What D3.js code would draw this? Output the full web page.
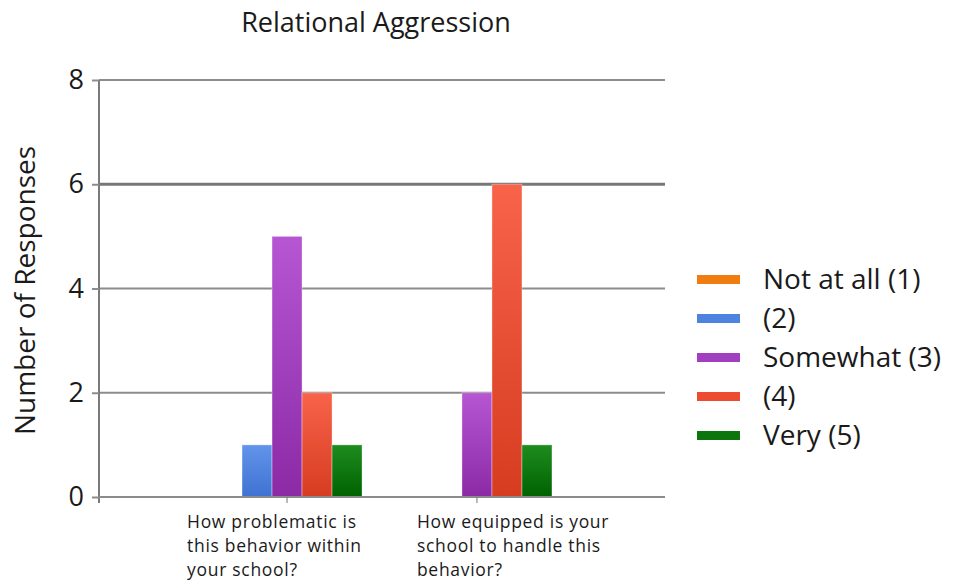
<!DOCTYPE html>
<html>
<head>
<meta charset="utf-8">
<script src="https://cdn.jsdelivr.net/npm/d3@7"></script>
<style>
  body { margin: 0; background: #fff; }
  svg { display: block; }
  text { font-family: "Open Sans", "DejaVu Sans", sans-serif; fill: #1a1a1a; }
</style>
</head>
<body>
<svg width="953" height="584"></svg>
<script>
// data
var categories = ["How problematic is this behavior within your school?",
                  "How equipped is your school to handle this behavior?"];
var categoryLines = [["How problematic is", "this behavior within", "your school?"],
                     ["How equipped is your", "school to handle this", "behavior?"]];
var seriesNames = ["Not at all (1)", "(2)", "Somewhat (3)", "(4)", "Very (5)"];
var notAtAll = [0, 0];
var two = [1, 0];
var somewhat = [5, 2];
var four = [2, 6];
var very = [1, 1];
var seriesValues = [notAtAll, two, somewhat, four, very];
var yTicks = [0, 2, 4, 6, 8];

var colors = [
  {top: "#f58a2a", bottom: "#e06a00", swatch: "#ef7d10"},
  {top: "#6294ea", bottom: "#3f72d2", swatch: "#4f83e0"},
  {top: "#b656d2", bottom: "#8c2aa6", swatch: "#a23fc0"},
  {top: "#f8634a", bottom: "#d63c20", swatch: "#ec4c30"},
  {top: "#1e8c1e", bottom: "#006200", swatch: "#0c760c"}
];

var margin = {top: 80, left: 99, right: 288, bottom: 87},
    width = 953 - margin.left - margin.right,
    height = 584 - margin.top - margin.bottom;

var svg = d3.select("svg");
var defs = svg.append("defs");
colors.forEach(function(c, i) {
  var g = defs.append("linearGradient")
      .attr("id", "grad" + i)
      .attr("x1", 0).attr("y1", 0).attr("x2", 0).attr("y2", 1);
  g.append("stop").attr("offset", "0%").attr("stop-color", c.top);
  g.append("stop").attr("offset", "100%").attr("stop-color", c.bottom);
});

var x = d3.scalePoint()
    .domain(categories)
    .range([0, width])
    .padding(0.99);

var xs = d3.scaleBand()
    .domain(seriesNames)
    .range([-75, 75])
    .padding(0);

var y = d3.scaleLinear()
    .domain([0, 8])
    .range([height, 0]);

var g = svg.append("g")
    .attr("transform", "translate(" + margin.left + "," + margin.top + ")");

// gridlines
g.selectAll(".grid")
  .data(yTicks.filter(function(d) { return d > 0; }))
  .enter().append("line")
    .attr("x1", 0).attr("x2", width)
    .attr("y1", function(d) { return y(d); })
    .attr("y2", function(d) { return y(d); })
    .attr("stroke", function(d) { return d === 6 ? "#777" : "#8c8c8c"; })
    .attr("stroke-width", function(d) { return d === 6 ? 3 : 2; });

// bars
var groups = g.selectAll(".cat")
  .data(categories)
  .enter().append("g")
    .attr("transform", function(d) { return "translate(" + x(d) + ",0)"; });

groups.selectAll("rect")
  .data(function(d, ci) {
    return seriesNames.map(function(s, si) { return {s: s, si: si, v: seriesValues[si][ci]}; })
      .filter(function(o) { return o.v > 0; });
  })
  .enter().append("rect")
    .attr("x", function(d) { return xs(d.s); })
    .attr("width", xs.bandwidth())
    .attr("y", function(d) { return y(d.v); })
    .attr("height", function(d) { return y(0) - y(d.v); })
    .attr("fill", function(d) { return "url(#grad" + d.si + ")"; })
    .attr("stroke", "rgba(255,255,255,0.35)")
    .attr("stroke-width", 1);

// y axis
var yAxis = d3.axisLeft(y)
    .tickValues(yTicks)
    .tickSize(7)
    .tickPadding(8);
var gY = g.append("g").call(yAxis);
gY.select(".domain").attr("stroke", "#7a7a7a").attr("stroke-width", 2)
  .attr("d", "M0," + (height + 6) + "V0");
gY.selectAll(".tick line").attr("stroke", "#8c8c8c").attr("stroke-width", 2);
gY.selectAll(".tick text").attr("font-size", 27).attr("fill", "#1a1a1a")
  .style("font-family", '"Open Sans", sans-serif');

// x axis
var gX = g.append("g")
    .attr("transform", "translate(0," + height + ")");
gX.append("line")
    .attr("x1", 0).attr("x2", width)
    .attr("stroke", "#8c8c8c").attr("stroke-width", 2);
gX.selectAll(".xtick")
  .data(categories)
  .enter().append("line")
    .attr("x1", function(d) { return x(d); })
    .attr("x2", function(d) { return x(d); })
    .attr("y1", 0).attr("y2", 6)
    .attr("stroke", "#777").attr("stroke-width", 1);

// category labels, one text per line
var labelOffsets = [-100, -60];
gX.selectAll(".xlabel")
  .data(categories)
  .enter().append("g")
    .attr("class", "xlabel")
    .each(function(d, i) {
      d3.select(this).selectAll("text")
        .data(categoryLines[i])
        .enter().append("text")
          .attr("x", x(d) + labelOffsets[i])
          .attr("y", function(t, j) { return 31 + j * 24; })
          .attr("font-size", 17.5)
          .attr("letter-spacing", 0.7)
          .text(function(t) { return t; });
    });

// title
svg.append("text")
    .attr("x", 376).attr("y", 32)
    .attr("text-anchor", "middle")
    .attr("font-size", 27)
    .text("Relational Aggression");

// y label
svg.append("text")
    .attr("transform", "translate(35," + (margin.top + height / 2 + 2) + ") rotate(-90)")
    .attr("text-anchor", "middle")
    .attr("font-size", 28)
    .text("Number of Responses");

// legend
var legend = svg.append("g")
    .attr("transform", "translate(697,279)");
var items = legend.selectAll(".item")
  .data(seriesNames)
  .enter().append("g")
    .attr("transform", function(d, i) { return "translate(0," + (i * 39) + ")"; });
items.append("rect")
    .attr("x", 0).attr("y", -4)
    .attr("width", 43).attr("height", 9)
    .attr("fill", function(d, i) { return colors[i].swatch; });
items.append("text")
    .attr("x", 66).attr("y", 10)
    .attr("font-size", 28)
    .text(function(d) { return d; });
</script>
</body>
</html>
